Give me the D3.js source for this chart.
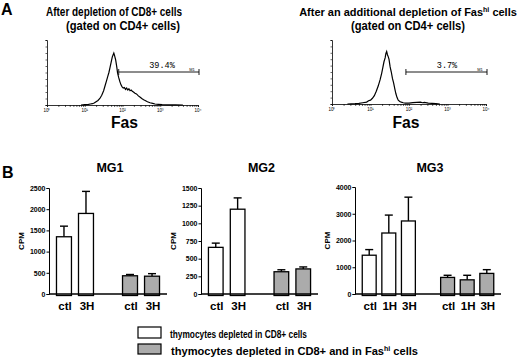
<!DOCTYPE html>
<html><head><meta charset="utf-8">
<script src="https://cdn.jsdelivr.net/npm/d3@7"></script>
<style>
html,body{margin:0;padding:0;background:#fff;}
svg{display:block;font-family:"Liberation Sans",Arial,Helvetica,sans-serif;}
</style></head>
<body>
<svg id="chart" width="520" height="359"></svg>
<script>
// ---------- DATA ----------
// Panel A: Fas histograms (log10 fluorescence, relative count in % of axis)
const histLeftLogFas = [0.9,1.0,1.1,1.15,1.2,1.25,1.3,1.35,1.4,1.45,1.5,1.54,1.58,1.61,1.64,1.67,1.7,1.73,1.75,1.77,1.79,1.82,1.85,1.87,1.9,1.93,1.96,1.99,2.02,2.05,2.08,2.11,2.14,2.17,2.2,2.23,2.26,2.29,2.33,2.37,2.42,2.47,2.51,2.56,2.6,2.66,2.73,2.8,2.86,2.95,3.05,3.2,3.4,3.6];
const histLeftCount  = [0,0.5,1,1.5,2,3,5,7,10,15,22,30,38,44,50,58,66,74,77,80,76,69,58,49,42,36,31,28,26,27,24,26,23,25,22,23,21,20,18,17,14,12,10,8,7,5,3.5,2.5,1.5,1,0.5,0.3,0.2,0];
const histRightLogFas = [0.4,0.6,0.7,0.8,0.9,0.95,1.0,1.05,1.1,1.15,1.2,1.25,1.29,1.32,1.35,1.38,1.4,1.42,1.44,1.46,1.48,1.51,1.54,1.57,1.6,1.63,1.66,1.69,1.72,1.76,1.8,1.85,1.9,2.0,2.1,2.2,2.3,2.35,2.4,2.5,2.6,2.7,2.8];
const histRightCount  = [0,0.5,1,2,3,5,6,9,13,20,28,38,48,57,66,72,79,82,77,74,70,58,50,40,33,24,16,10,6,4,3,2,1.5,1.5,2,2.5,3,2,2.5,1.5,1,0.5,0];
const histTitles = [["After depletion of CD8+ cells","(gated on CD4+ cells)"],["After an additional depletion of Fas","(gated on CD4+ cells)"]];
const gatePercents = ["39.4%","3.7%"];
const gateStartLog = [1.9,1.92];
const logTickLabels = ["10\u2070","10\u00b9","10\u00b2","10\u00b3","10\u2074"];

// Panel B: CPM bars
const mg1Categories = ["ctl","3H"];
const mg1White = [1350,1900];  const mg1WhiteSem = [250,520];
const mg1Grey  = [430,420];    const mg1GreySem  = [30,60];
const mg1Ticks = [0,500,1000,1500,2000,2500];

const mg2Categories = ["ctl","3H"];
const mg2White = [660,1200];   const mg2WhiteSem = [60,160];
const mg2Grey  = [315,355];    const mg2GreySem  = [28,28];
const mg2Ticks = [0,250,500,750,1000,1250,1500];

const mg3Categories = ["ctl","1H","3H"];
const mg3White = [1450,2280,2730]; const mg3WhiteSem = [210,670,890];
const mg3Grey  = [620,530,770];    const mg3GreySem  = [80,170,140];
const mg3Ticks = [0,1000,2000,3000,4000];

const legendLabels = ["thymocytes depleted in CD8+ cells","thymocytes depleted in CD8+ and in Fas"];

// ---------- DRAW ----------
const svg = d3.select("#chart");
const F = '"Liberation Sans",Arial,Helvetica,sans-serif';

function txt(x,y,s,size,opts={}){
  const t = svg.append("text").attr("x",x).attr("y",y).text(s)
    .attr("font-size",size).attr("font-weight",opts.weight||"bold")
    .attr("text-anchor",opts.anchor||"start").attr("fill","#000");
  if(opts.len){t.attr("textLength",opts.len).attr("lengthAdjust","spacingAndGlyphs");}
  if(opts.family) t.attr("font-family",opts.family);
  return t;
}

// Panel labels
txt(1,15,"A",16);
txt(2,178,"B",16);

// Histograms
const histCfg = [
  {x0:47,x1:198,yb:105,yt:40,logs:histLeftLogFas,counts:histLeftCount,tc:[114,123],gateY:72,pctX:162},
  {x0:332,x1:486,yb:104,yt:40,logs:histRightLogFas,counts:histRightCount,tc:[408,408],gateY:72,pctX:447}
];
histCfg.forEach((c,k)=>{
  const x = d3.scaleLog().domain([1,1e4]).range([c.x0,c.x1]);
  const y = d3.scaleLinear().domain([0,100]).range([c.yb,c.yt]);
  const g = svg.append("g");
  const ax = d3.axisBottom(x).tickSize(2).tickFormat(()=> "");
  g.append("g").attr("transform",`translate(0,${c.yb})`).call(ax)
    .call(s=>s.select(".domain").attr("stroke-width",0.8))
    .call(s=>s.selectAll(".tick line").attr("stroke-width",0.6));
  const ay = d3.axisLeft(y).ticks(10).tickSize(1.5).tickFormat(()=> "");
  g.append("g").attr("transform",`translate(${c.x0},0)`).call(ay)
    .call(s=>s.select(".domain").attr("stroke-width",0.8))
    .call(s=>s.selectAll(".tick line").attr("stroke-width",0.6));
  logTickLabels.forEach((lab,i)=>{
    txt(x(Math.pow(10,i)),c.yb+7,lab,4.5,{anchor:"middle",weight:"normal"});
  });
  const pts = c.logs.map((l,i)=>[x(Math.pow(10,l)),y(c.counts[i])]);
  g.append("path").attr("d",d3.line()(pts)).attr("fill","none")
    .attr("stroke","#000").attr("stroke-width",1.2);
  const gx0 = x(Math.pow(10,gateStartLog[k])), gx1 = c.x1+1;
  g.append("line").attr("x1",gx0).attr("x2",gx1).attr("y1",c.gateY).attr("y2",c.gateY).attr("stroke","#000").attr("stroke-width",0.9);
  [gx0,gx1].forEach(xx=>g.append("line").attr("x1",xx).attr("x2",xx).attr("y1",c.gateY-3).attr("y2",c.gateY+3).attr("stroke","#000").attr("stroke-width",0.9));
  txt(gx1-7,c.gateY-1,"M1",4,{anchor:"middle",weight:"normal"});
  txt(c.pctX,c.gateY-4,gatePercents[k],8.5,{anchor:"middle",weight:"normal",family:'"Liberation Mono","DejaVu Sans Mono",monospace'});
  const midX = (c.x0+c.x1)/2;
  if(k===0){
    txt(c.tc[0],16,histTitles[k][0],12,{anchor:"middle",len:136});
  } else {
    const t = txt(c.tc[0],16,"",11,{anchor:"middle"});
    t.append("tspan").text(histTitles[k][0]);
    t.append("tspan").text("hi").attr("font-size",7).attr("dy",-4);
    t.append("tspan").text(" cells").attr("dy",4);
  }
  txt(c.tc[1],30,histTitles[k][1],12,{anchor:"middle",len:114});
  txt(midX+(k===0?2:-3),128,"Fas",16,{anchor:"middle",len:27});
});

// Bar panels
const barCfg = [
  {title:"MG1",cats:mg1Categories,w:mg1White,ws:mg1WhiteSem,g:mg1Grey,gs:mg1GreySem,ticks:mg1Ticks,max:2500,xl:49,xr:167,top:188,bot:294,pi:0.32,po:0.34},
  {title:"MG2",cats:mg2Categories,w:mg2White,ws:mg2WhiteSem,g:mg2Grey,gs:mg2GreySem,ticks:mg2Ticks,max:1500,xl:201,xr:318,top:188,bot:294,pi:0.33,po:0.34},
  {title:"MG3",cats:mg3Categories,w:mg3White,ws:mg3WhiteSem,g:mg3Grey,gs:mg3GreySem,ticks:mg3Ticks,max:4000,xl:355,xr:501,top:187,bot:294,pi:0.29,po:0.37}
];
barCfg.forEach(c=>{
  const n = c.cats.length;
  const slots = d3.range(2*n+1);
  const x = d3.scaleBand().domain(slots).range([c.xl,c.xr]).paddingInner(c.pi).paddingOuter(c.po);
  const y = d3.scaleLinear().domain([0,c.max]).range([c.bot,c.top]);
  const g = svg.append("g");
  const bars = [];
  c.cats.forEach((cat,i)=>bars.push({slot:i,cat,v:c.w[i],s:c.ws[i],fill:"#fff"}));
  c.cats.forEach((cat,i)=>bars.push({slot:n+1+i,cat,v:c.g[i],s:c.gs[i],fill:"#ababab"}));
  bars.forEach(b=>{
    const cx = x(b.slot)+x.bandwidth()/2;
    g.append("line").attr("x1",cx).attr("x2",cx).attr("y1",y(b.v)).attr("y2",y(b.v+b.s)).attr("stroke","#000").attr("stroke-width",1.4);
    g.append("line").attr("x1",cx-4).attr("x2",cx+4).attr("y1",y(b.v+b.s)).attr("y2",y(b.v+b.s)).attr("stroke","#000").attr("stroke-width",1.4);
  });
  g.selectAll("rect.bar").data(bars).join("rect").attr("class","bar")
    .attr("x",b=>x(b.slot)).attr("width",x.bandwidth())
    .attr("y",b=>y(b.v)).attr("height",b=>c.bot+1.5-y(b.v))
    .attr("fill",b=>b.fill).attr("stroke","#000").attr("stroke-width",1.3);
  const ay = d3.axisLeft(y).tickValues(c.ticks).tickSize(2.5).tickPadding(1).tickFormat(d3.format("d"));
  g.append("g").attr("transform",`translate(${c.xl},0)`).call(ay)
    .call(s=>s.select(".domain").attr("stroke-width",1))
    .call(s=>s.selectAll("text").attr("font-size",7).attr("font-weight","bold").attr("font-family",F));
  g.append("line").attr("x1",c.xl).attr("x2",c.xr).attr("y1",c.bot).attr("y2",c.bot).attr("stroke","#000").attr("stroke-width",1.4);
  bars.forEach(b=>{
    txt(x(b.slot)+x.bandwidth()/2+1,310,b.cat,11.5,{anchor:"middle"});
  });
  txt((c.xl+c.xr)/2+2,172,c.title,12.5,{anchor:"middle"});
  svg.append("text").attr("transform",`translate(${c.xl-25},${(c.top+c.bot)/2}) rotate(-90)`)
    .attr("text-anchor","middle").attr("font-size",8).attr("font-weight","bold").text("CPM");
});

// Legend
svg.append("rect").attr("x",138).attr("y",327).attr("width",23).attr("height",11).attr("fill","#fff").attr("stroke","#000").attr("stroke-width",1.2);
svg.append("rect").attr("x",138).attr("y",344).attr("width",23).attr("height",10).attr("fill","#ababab").attr("stroke","#000").attr("stroke-width",1.2);
txt(170,338,legendLabels[0],11,{len:137});
const l2 = txt(171,355,"",11.1);
l2.append("tspan").text(legendLabels[1]);
l2.append("tspan").text("hi").attr("font-size",7).attr("dy",-4);
l2.append("tspan").text(" cells").attr("dy",4);
</script>
</body></html>
